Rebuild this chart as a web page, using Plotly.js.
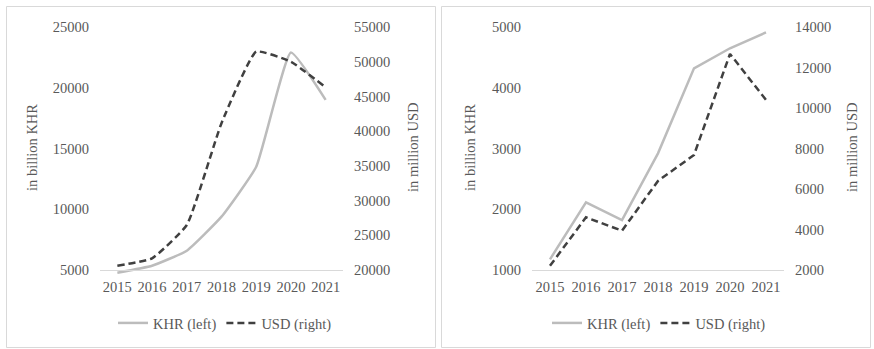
<!DOCTYPE html>
<html>
<head>
<meta charset="utf-8">
<script src="https://cdn.plot.ly/plotly-3.0.1.min.js"></script>
<style>html,body{margin:0;padding:0;background:#fff;}#chart{width:874px;height:349px;}</style>
</head>
<body>
<div id="chart"></div>
<script>
const years = ['2015','2016','2017','2018','2019','2020','2021'];
const leftKHR = [4780, 5350, 6590, 9390, 13500, 22900, 19000];
const leftUSD = [20620, 21680, 26480, 41150, 51450, 49990, 46310];
const rightKHR = [1176, 2114, 1823, 2920, 4320, 4650, 4910];
const rightUSD = [2210, 4600, 3940, 6400, 7680, 12670, 10400];
const seriesNames = ['KHR (left)', 'USD (right)'];

const W = 874, H = 349;
const px = v => v / W;
const py = v => 1 - v / H;
const FONT = {family: 'Liberation Serif, serif', size: 14.5, color: '#595959'};
const KHRcol = '#bcbcbc', USDcol = '#404040';
const DASH = '7px,4px';

const traces = [
  {x: years, y: leftKHR, name: seriesNames[0], type: 'scatter', mode: 'lines', xaxis: 'x', yaxis: 'y',
   line: {color: KHRcol, width: 2.5, shape: 'spline', smoothing: 0.4}, legend: 'legend'},
  {x: years, y: leftUSD, name: seriesNames[1], type: 'scatter', mode: 'lines', xaxis: 'x', yaxis: 'y2',
   line: {color: USDcol, width: 2.5, dash: DASH, shape: 'spline', smoothing: 0.4}, legend: 'legend'},
  {x: years, y: rightKHR, name: seriesNames[0], type: 'scatter', mode: 'lines', xaxis: 'x2', yaxis: 'y3',
   line: {color: KHRcol, width: 2.5}, legend: 'legend2'},
  {x: years, y: rightUSD, name: seriesNames[1], type: 'scatter', mode: 'lines', xaxis: 'x2', yaxis: 'y4',
   line: {color: USDcol, width: 2.5, dash: DASH}, legend: 'legend2'}
];

// plot areas: baseline at y=270px, top tick at y=27px; left panel extends 6px below baseline so lines may dip under it
const ext = 6, spanPx = 243;
const xCommon = {type: 'category', range: [-0.5, 6.5], showgrid: false, zeroline: false, showline: true, linecolor: '#d9d9d9', linewidth: 1,
  ticks: '', tickfont: FONT, ticklabelstandoff: 4, fixedrange: true, anchor: 'free', position: py(270)};
const yCommon = {showgrid: false, zeroline: false, showline: false, ticks: '', tickfont: FONT, fixedrange: true,
  ticklabelstandoff: 10, tickformat: 'd'};

const layout = {
  width: W, height: H,
  margin: {l: 0, r: 0, t: 0, b: 0},
  paper_bgcolor: '#fff', plot_bgcolor: 'rgba(0,0,0,0)',
  font: FONT,
  showlegend: true,
  xaxis: Object.assign({}, xCommon, {domain: [px(100), px(343)]}),
  xaxis2: Object.assign({}, xCommon, {domain: [px(532), px(784)]}),
  yaxis: Object.assign({}, yCommon, {anchor: 'x', domain: [py(270 + ext), py(27)],
    range: [5000 - ext * 20000 / spanPx, 25000], dtick: 5000, tick0: 5000}),
  yaxis2: Object.assign({}, yCommon, {anchor: 'x', overlaying: 'y', side: 'right',
    range: [20000 - ext * 35000 / spanPx, 55000], dtick: 5000, tick0: 20000}),
  yaxis3: Object.assign({}, yCommon, {anchor: 'x2', domain: [py(270), py(27)], range: [1000, 5000], dtick: 1000, tick0: 1000}),
  yaxis4: Object.assign({}, yCommon, {anchor: 'x2', overlaying: 'y3', side: 'right', range: [2000, 14000], dtick: 2000, tick0: 2000}),
  legend: {orientation: 'h', x: px(225), xanchor: 'center', y: py(323), yanchor: 'middle', font: FONT, bgcolor: 'rgba(0,0,0,0)', itemwidth: 30},
  legend2: {orientation: 'h', x: px(659), xanchor: 'center', y: py(323), yanchor: 'middle', font: FONT, bgcolor: 'rgba(0,0,0,0)', itemwidth: 30},
  annotations: [
    {text: 'in billion KHR', xref: 'paper', yref: 'paper', x: px(32), y: py(148), textangle: -90, showarrow: false, font: FONT, xanchor: 'center', yanchor: 'middle'},
    {text: 'in million USD', xref: 'paper', yref: 'paper', x: px(413), y: py(148), textangle: -90, showarrow: false, font: FONT, xanchor: 'center', yanchor: 'middle'},
    {text: 'in billion KHR', xref: 'paper', yref: 'paper', x: px(470), y: py(148), textangle: -90, showarrow: false, font: FONT, xanchor: 'center', yanchor: 'middle'},
    {text: 'in million USD', xref: 'paper', yref: 'paper', x: px(852), y: py(148), textangle: -90, showarrow: false, font: FONT, xanchor: 'center', yanchor: 'middle'}
  ],
  shapes: [
    {type: 'rect', xref: 'paper', yref: 'paper', x0: px(6.5), x1: px(435.5), y0: py(347.5), y1: py(6.5), line: {color: '#d9d9d9', width: 1}},
    {type: 'rect', xref: 'paper', yref: 'paper', x0: px(441.5), x1: px(870.5), y0: py(347.5), y1: py(6.5), line: {color: '#d9d9d9', width: 1}}
  ]
};

Plotly.newPlot('chart', traces, layout, {displayModeBar: false, staticPlot: true});
</script>
</body>
</html>
